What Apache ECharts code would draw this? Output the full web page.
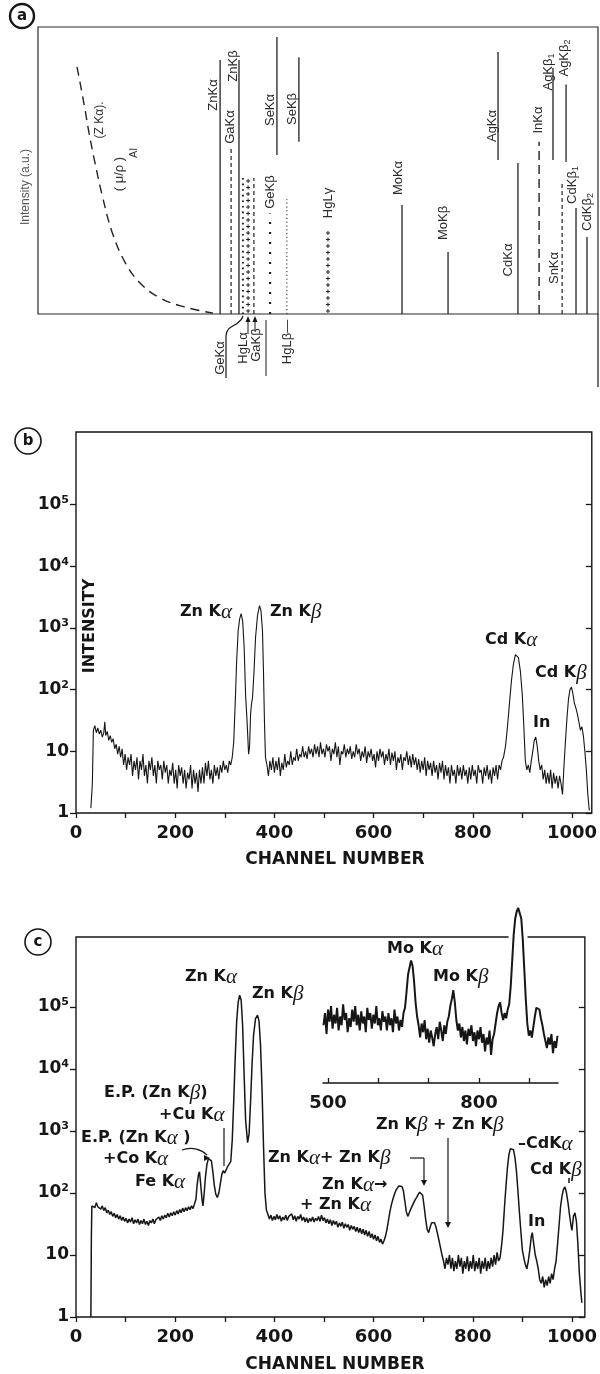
<!DOCTYPE html>
<html>
<head>
<meta charset="utf-8">
<script src="https://cdn.jsdelivr.net/npm/echarts@6/dist/echarts.min.js"></script>
<style>
  html, body { margin: 0; padding: 0; background: #fff; }
  #chart { width: 600px; height: 1374px; }
</style>
</head>
<body>
<div id="chart"></div>
<script>
// ---- panel (a): schematic line positions (keV) and heights (fraction of frame)
const aNames  = ['ZnKα','GaKα','ZnKβ','GeKα','HgLα','GaKβ','GeKβ','SeKα','HgLβ','SeKβ','HgLγ','MoKα','MoKβ','AgKα','CdKα','InKα','AgKβ1','SnKα','AgKβ2','CdKβ1','CdKβ2'];
const aEnergy = [8.78, 9.31, 9.69, 9.88, 10.13, 10.41, 11.19, 11.52, 12.0, 12.58, 13.98, 17.55, 19.77, 22.18, 23.14, 24.16, 24.83, 25.27, 25.46, 25.94, 26.47];
const aLow    = [0, 0, 0, 0, 0, 0, 0, 0.554, 0, 0.60, 0, 0, 0, 0.537, 0, 0, 0.537, 0, 0.53, 0, 0];
const aHigh   = [0.885, 0.58, 0.885, 0.474, 0.474, 0.474, 0.35, 0.965, 0.40, 0.895, 0.293, 0.38, 0.216, 0.913, 0.526, 0.60, 0.857, 0.456, 0.80, 0.369, 0.268];
const aStroke = ['solid','dash','solid','dot','plus','dash','bigdot','solid','fine','solid','plus','solid','solid','solid','solid','longdash','solid','dash','solid','solid','solid'];
const strokeKinds = ['solid','dash','longdash','dot','bigdot','fine','plus'];

// absorption curve (mu/rho)_Al
const muEnergy = [1.88, 2.03, 2.27, 2.46, 2.75, 3.09, 3.57, 4.19, 4.92, 5.88, 7.09, 8.44];
const muValue  = [0.861, 0.805, 0.711, 0.631, 0.526, 0.415, 0.286, 0.181, 0.108, 0.056, 0.024, 0.003];

// ---- panel (b): spectrum [channel, counts]
const specB = [[30,1.2],[33,3],[35,22],[38,26],[41,20],[44,24],[47,19],[50,22],[53,17],[56,20],[58,30],[60,18],[63,21],[66,15],[69,18],[72,14],[75,16],[78,11],[81,13],[84,9],[87,12],[90,8],[93,11],[96,6],[99,9],[102,5],[105,8],[108,6],[111,9],[114,4],[117,7],[120,5],[123,8],[126,3.5],[129,7],[132,5],[135,9],[138,4],[141,6],[144,3],[147,7],[150,5],[153,8],[156,4],[159,6],[162,3],[165,7],[168,5],[171,6],[174,3.5],[177,7],[180,4.5],[183,6],[186,3],[189,5],[192,4],[195,6.5],[198,3],[201,5],[204,2.5],[207,6],[210,4],[213,5.5],[216,3],[219,5],[222,2.5],[225,4.5],[228,3.5],[231,6],[234,2.5],[237,5],[240,3],[243,4.5],[246,2.2],[249,5],[252,3],[255,5.5],[258,3],[261,6.5],[264,4],[267,7],[270,3.5],[273,5],[276,3],[279,6],[282,4],[285,5.5],[288,3.5],[291,6],[294,4.5],[297,7],[300,5],[303,6],[306,4.5],[309,7],[312,6],[315,8],
  [318,14],[321,60],[324,300],[327,900],[330,1400],[333,1700],[336,1300],[339,500],[342,80],[345,30],[348,9],[350,12],[352,40],[354,60],[356,75],[359,200],[362,700],[366,1600],[370,2300],[373,1900],[376,900],[378,200],[380,30],[382,8],
  [385,6],[388,4],[391,7],[394,5],[397,8],[400,4.5],[403,7],[406,5],[409,8],[412,4],[415,6.5],[418,5],[421,9],[424,5.5],[427,7],[430,6],[433,10],[436,6],[439,8],[442,7],[445,11],[448,7],[451,9],[454,8],[457,12],[460,8],[463,10],[466,7.5],[469,12],[472,9],[475,11],[478,8],[481,13],[484,9],[487,12],[490,8],[493,14],[496,9],[499,11],[502,8],[505,13],[508,10],[511,12],[514,7],[517,11],[520,9],[523,14],[526,8],[529,12],[532,6],[535,10],[538,9],[541,13],[544,8],[547,11],[550,9],[553,12],[556,7.5],[559,10],[562,8],[565,13],[568,9],[571,11],[574,7],[577,10],[580,8],[583,12],[586,6.5],[589,10],[592,8],[595,11],[598,7],[601,9],[604,5.5],[607,10],[610,7],[613,11],[616,8],[619,10],[622,6],[625,9],[628,7],[631,11],[634,6],[637,9.5],[640,7],[643,10],[646,5],[649,8],[652,6.5],[655,9],[658,5],[661,8],[664,7],[667,10],[670,6],[673,8.5],[676,5.5],[679,9],[682,6],[685,8],[688,5],[691,7.5],[694,4.5],[697,7],[700,5],[703,8],[706,4],[709,7],[712,5],[715,6.5],[718,4],[721,7],[724,4.5],[727,6],[730,3.5],[733,6.5],[736,4.5],[739,7],[742,3.5],[745,6],[748,4],[751,5.5],[754,3],[757,6],[760,4],[763,5],[766,3],[769,6],[772,4],[775,5.5],[778,3.5],[781,6],[784,4],[787,5],[790,3],[793,5.5],[796,3.5],[799,6],[802,4],[805,5],[808,3],[811,6],[814,4.5],[817,5],[820,3],[823,5.5],[826,4],[829,6],[832,3.5],[835,5],[838,3],[841,5.5],[844,4],[847,6],[850,3.5],[853,6],[856,5],[859,7],
  [862,8],[866,12],[870,25],[874,60],[878,140],[882,260],[886,370],[889,390],[892,330],[896,200],[900,80],[903,25],[906,7],[909,5],[912,6],[915,4.5],[918,7],[921,10],[924,15],[927,17],[930,12],[933,7],[936,5],[939,6],[942,3.5],[945,5],[948,3],[951,4.5],[954,3],[957,5],[960,2.5],[963,4.5],[966,3],[969,4],[972,2.5],[975,4],[978,3],[981,2],[984,6],[987,15],[990,35],[993,70],[996,100],[999,110],[1002,85],[1005,60],[1008,50],[1011,40],[1014,30],[1017,22],[1020,25],[1023,18],[1026,10],[1029,5],[1032,2],[1035,1.1]];

// ---- panel (c): spectrum [channel, counts]
const specC = [[30,1],[31,20],[32,62],[35,66],[38,58],[41,70],[44,60],[47,64],[50,55],[53,62],[56,52],[59,58],[62,48],[65,53],[68,45],[71,50],[74,42],[77,47],[80,40],[83,45],[86,38],[89,43],[92,36],[95,41],[98,35],[101,39],[104,33],[107,38],[110,34],[113,40],[116,32],[119,37],[122,33],[125,38],[128,31],[131,36],[134,32],[137,38],[140,31],[143,35],[146,30],[149,36],[152,33],[155,38],[158,32],[161,37],[164,35],[167,41],[170,36],[173,43],[176,38],[179,44],[182,40],[185,47],[188,41],[191,48],[194,43],[197,50],[200,44],[203,52],[206,46],[209,54],[212,48],[215,57],[218,50],[221,58],[224,52],[227,60],[230,54],[233,62],[236,56],[239,60],
  [242,80],[244,130],[247,200],[249,220],[251,150],[254,80],[256,62],[258,90],[261,180],[264,290],[267,360],[270,380],[273,330],[276,220],[279,130],[282,95],[285,85],[288,100],[291,140],[294,200],[297,230],[300,210],[303,240],[306,270],[309,280],[312,320],[315,700],[318,3000],[321,15000],[324,60000],[327,120000],[330,155000],[333,130000],[336,50000],[339,8000],[342,1500],[346,650],[349,900],[352,3000],[355,12000],[358,35000],[362,65000],[366,74000],[369,60000],[372,25000],[375,5000],[378,600],[381,100],[384,53],
  [387,45],[390,38],[393,44],[396,36],[399,42],[402,37],[405,45],[408,38],[411,43],[414,35],[417,41],[420,37],[423,44],[426,36],[429,42],[432,39],[435,46],[438,37],[441,43],[444,35],[447,42],[450,38],[453,45],[456,36],[459,41],[462,34],[465,40],[468,33],[471,39],[474,35],[477,41],[480,34],[483,39],[486,36],[489,42],[492,35],[495,44],[498,36],[501,40],[504,33],[507,38],[510,32],[513,37],[516,30],[519,36],[522,31],[525,35],[528,28],[531,33],[534,29],[537,34],[540,27],[543,32],[546,28],[549,31],[552,25],[555,30],[558,26],[561,29],[564,24],[567,28],[570,23],[573,27],[576,22],[579,26],[582,21],[585,25],[588,20],[591,24],[594,19],[597,22],[600,18],[603,21],[606,17],[609,20],[612,16],[615,18],[618,15],[621,17],
  [624,20],[627,26],[630,36],[633,50],[636,65],[639,80],[642,95],[645,110],[648,120],[651,130],[654,135],[657,128],[660,110],[663,75],[666,50],[669,42],[672,48],[675,55],[678,62],[681,70],[684,78],[687,85],[690,95],[693,103],[696,105],[699,92],[702,60],[705,38],[708,26],[711,23],[714,28],[717,33],[720,35],[723,33],[726,28],[729,22],[732,17],[735,13],[738,10],[741,8],
  [744,6],[747,9],[750,7],[753,10],[756,6],[759,9],[762,5.5],[765,8],[768,6],[771,10],[774,6.5],[777,9],[780,5],[783,8],[786,6],[789,9.5],[792,5.5],[795,8],[798,6],[801,10],[804,5.5],[807,8],[810,6],[813,9],[816,5],[819,8],[822,6],[825,9],[828,5.5],[831,8],[834,6],[837,9],[840,6.5],[843,10],[846,7],[849,11],[852,8],[855,9],
  [858,14],[861,25],[864,60],[867,130],[870,260],[873,420],[876,520],[879,550],[882,500],[885,380],[888,230],[891,110],[894,50],[897,24],[900,12],[903,9],[906,7],[909,6],[912,8],[915,12],[918,20],[920,23],[923,15],[926,10],[929,8],[932,6],[935,4],[938,3.5],[941,4.5],[944,3],[947,4],[950,3.2],[953,4.5],[956,3.5],[959,5],[962,4],[965,6],
  [968,8],[971,15],[974,30],[977,60],[980,90],[983,115],[986,125],[989,100],[992,70],[995,45],[998,30],[1000,25],[1003,42],[1006,48],[1009,35],[1012,15],[1015,5],[1018,2.5],[1020,1.7]];

// ---- inset of (c): linear counts (arb.)
const specInset = [[491,33],[494,40],[497,28],[500,42],[503,35],[506,44],[509,31],[512,39],[515,34],[518,43],[521,30],[524,38],[527,33],[530,45],[533,36],[536,40],[539,29],[542,37],[545,32],[548,42],[551,35],[554,44],[557,33],[560,39],[563,30],[566,41],[569,34],[572,38],[575,29],[578,43],[581,36],[584,40],[587,31],[590,39],[593,34],[596,44],[599,33],[602,37],[605,30],[608,41],[611,35],[614,38],[617,30],[620,40],[623,33],[626,37],[629,29],[632,42],[635,34],[638,38],[641,30],[644,36],[647,32],[650,40],[653,43],[656,52],[659,62],[662,66],[665,70],[668,67],[671,58],[674,46],[677,38],[680,33],[683,26],[686,34],[689,29],[692,36],[695,25],[698,31],[701,23],[704,30],[707,26],[710,21],[713,28],[716,32],[719,25],[722,35],[725,30],[728,24],[731,33],[734,28],[737,35],[740,38],[743,44],[746,48],[749,53],[752,46],[755,36],[758,30],[761,34],[764,26],[767,32],[770,24],[773,30],[776,22],[779,31],[782,27],[785,33],[788,24],[791,29],[794,21],[797,30],[800,25],[803,32],[806,23],[809,28],[812,18],[815,26],[818,22],[821,30],[824,16],[827,25],[830,28],[833,34],[836,40],[839,44],[842,46],[845,40],[848,36],[851,40],[854,37],[857,42],[860,45],[863,55],[866,70],[869,85],[872,94],[875,98],[878,100],[881,99],[884,94],[887,82],[890,65],[893,48],[896,34],[899,27],[902,30],[905,26],[908,32],[911,38],[914,43],[917,44],[920,42],[923,37],[926,33],[929,28],[932,24],[935,20],[938,26],[941,22],[944,28],[947,17],[950,24],[953,20],[956,27]];

// tick values
const chanTicks = [0,100,200,300,400,500,600,700,800,900,1000];
const chanLabels = [0,200,400,600,800,1000];
const decadeTicks = [1,10,100,1000,10000,100000];
const insetTicks = [500,600,700,800,900];
const insetLabels = [500,800];

const INK = '#161616';
const BOLD = '"DejaVu Sans", sans-serif';
const SERIF = '"Liberation Serif", "DejaVu Serif", serif';
const THIN = '"Liberation Sans", "DejaVu Sans", sans-serif';

const chart = echarts.init(document.getElementById('chart'));

const boldNum = { fontFamily: BOLD, fontWeight: 'bold', fontSize: 18, color: INK, formatter: v => String(v) };

function chanAxis(grid, max) {
  return {
    gridIndex: grid, type: 'value', min: 0, max: max,
    axisLine: { show: false },
    splitLine: { show: false },
    axisTick: { customValues: chanTicks, length: 5, lineStyle: { color: INK, width: 1.3 } },
    axisLabel: { customValues: chanLabels, margin: 11, ...boldNum }
  };
}
function logAxis(grid, max, right) {
  return {
    gridIndex: grid, type: 'log', logBase: 10, min: 1, max: max,
    position: right ? 'right' : 'left',
    axisLine: { show: false },
    splitLine: { show: false },
    axisTick: { customValues: decadeTicks, inside: !!right, length: 6, lineStyle: { color: INK, width: 1.3 } },
    axisLabel: {
      show: !right, customValues: decadeTicks, margin: 7,
      formatter: v => v < 2 ? '{n|1}' : v < 20 ? '{n|10}' : '{n|10}{s|' + Math.round(Math.log10(v)) + '}',
      rich: {
        n: { fontFamily: BOLD, fontWeight: 'bold', fontSize: 17, color: INK },
        s: { fontFamily: BOLD, fontWeight: 'bold', fontSize: 11, color: INK, padding: [0, 0, 9, 0] }
      }
    }
  };
}

// rich text helpers for bold labels with thin italic greek letters
const annRich = {
  b: { fontFamily: BOLD, fontWeight: 'bold', fontSize: 16, fill: INK },
  g: { fontFamily: SERIF, fontStyle: 'italic', fontWeight: 'normal', fontSize: 21, fill: INK }
};
function ann(text, x, y, align, rot, size) {
  const rich = size ? { b: Object.assign({}, annRich.b, { fontSize: size }), g: annRich.g } : annRich;
  return {
    type: 'text', x: x, y: y, rotation: rot || 0, z: 50,
    style: { text: text, rich: rich, align: align || 'left', verticalAlign: 'middle' }
  };
}
const thinRich = {
  t: { fontFamily: THIN, fontSize: 13, fill: '#2a2a2a' },
  s: { fontFamily: THIN, fontSize: 9, fill: '#2a2a2a', padding: [8, 0, 0, 0] }
};
function thin(text, x, y) {
  return {
    type: 'text', x: x, y: y, rotation: Math.PI / 2, z: 50,
    style: { text: text, rich: thinRich, align: 'center', verticalAlign: 'middle' }
  };
}
function seg(x1, y1, x2, y2, w) {
  return { type: 'line', z: 50, shape: { x1, y1, x2, y2 }, style: { stroke: INK, lineWidth: w || 1.2 } };
}
function curve(x1, y1, cx1, cy1, cx2, cy2, x2, y2) {
  return { type: 'bezierCurve', z: 50, shape: { x1, y1, cpx1: cx1, cpy1: cy1, cpx2: cx2, cpy2: cy2, x2, y2 },
    style: { stroke: INK, lineWidth: 1.2, fill: null } };
}
function head(x, y, dir) {
  // small filled arrow head; dir: 'down' | 'up' | 'right'
  const pts = dir === 'down' ? [[x - 3, y - 6], [x + 3, y - 6], [x, y]]
    : dir === 'up' ? [[x - 2.5, y + 6], [x + 2.5, y + 6], [x, y]]
    : [[x - 6, y - 3], [x - 6, y + 3], [x, y]];
  return { type: 'polygon', z: 50, shape: { points: pts }, style: { fill: INK } };
}
function badge(cx, cy, r, letter, w) {
  return [
    { type: 'circle', z: 50, shape: { cx, cy, r }, style: { fill: '#fff', stroke: INK, lineWidth: w } },
    { type: 'text', x: cx, y: cy, z: 51, style: { text: letter, align: 'center', verticalAlign: 'middle',
      fontFamily: 'DejaVu Sans', fontWeight: 'bold', fontSize: 15, fill: INK } }
  ];
}

// panel (a) stick data
const sticks = aEnergy.map((e, i) => [e, aLow[i], aHigh[i], strokeKinds.indexOf(aStroke[i])]);

function renderStick(params, api) {
  const e = api.value(0);
  const p0 = api.coord([e, api.value(1)]);
  const p1 = api.coord([e, api.value(2)]);
  const kind = strokeKinds[api.value(3)];
  const shape = { x1: p0[0], y1: p0[1], x2: p1[0], y2: p1[1] };
  if (kind === 'plus') {
    const kids = [];
    for (let y = p0[1] - 3; y >= p1[1]; y -= 6.5) {
      kids.push({ type: 'line', shape: { x1: p0[0] - 2, y1: y, x2: p0[0] + 2, y2: y }, style: { stroke: '#222', lineWidth: 1 } });
      kids.push({ type: 'line', shape: { x1: p0[0], y1: y - 2, x2: p0[0], y2: y + 2 }, style: { stroke: '#222', lineWidth: 1 } });
    }
    return { type: 'group', children: kids };
  }
  const st = { stroke: '#222', lineWidth: 1.3 };
  if (kind === 'dash') { st.lineDash = [4, 3]; st.lineWidth = 1.2; }
  if (kind === 'longdash') { st.lineDash = [9, 5]; st.lineWidth = 1.4; }
  if (kind === 'dot') { st.lineDash = [1.6, 4]; st.lineWidth = 2; }
  if (kind === 'bigdot') { st.lineDash = [2, 8]; st.lineWidth = 2.2; }
  if (kind === 'fine') { st.lineDash = [1.2, 2.6]; st.lineWidth = 1; }
  return { type: 'line', shape: shape, style: st };
}

const graphics = [
  ...badge(22, 16, 12, 'a', 2.4),
  ...badge(28, 441, 13, 'b', 1.6),
  ...badge(38, 942, 13, 'c', 1.6),
  // panel (a) decorations
  seg(598, 314, 598, 387, 1.2),
  { type: 'text', x: 26, y: 187, rotation: Math.PI / 2, z: 50,
    style: { text: 'Intensity (a.u.)', fontFamily: THIN, fontSize: 12, fill: '#555', align: 'center', verticalAlign: 'middle' } },
  { type: 'text', x: 100, y: 120, rotation: Math.PI / 2, z: 50,
    style: { text: '(Z Kα).', fontFamily: THIN, fontSize: 12, fill: '#333', align: 'center', verticalAlign: 'middle' } },
  { type: 'text', x: 119, y: 174, rotation: Math.PI / 2, z: 50,
    style: { text: '( μ/ρ )', fontFamily: THIN, fontSize: 13, fill: '#333', align: 'center', verticalAlign: 'middle' } },
  { type: 'text', x: 134, y: 153, rotation: Math.PI / 2, z: 50,
    style: { text: 'Al', fontFamily: THIN, fontSize: 11, fill: '#333', align: 'center', verticalAlign: 'middle' } },
  thin('{t|ZnKα}', 213, 95), thin('{t|GaKα}', 230, 127), thin('{t|ZnKβ}', 233, 66),
  thin('{t|SeKα}', 270, 110), thin('{t|SeKβ}', 292, 109), thin('{t|GeKβ}', 270, 192),
  thin('{t|HgLγ}', 328, 203), thin('{t|MoKα}', 398, 178), thin('{t|MoKβ}', 443, 223),
  thin('{t|AgKα}', 492, 126), thin('{t|CdKα}', 508, 260), thin('{t|InKα}', 538, 120),
  thin('{t|AgKβ}{s|1}', 548, 72), thin('{t|AgKβ}{s|2}', 564, 58), thin('{t|SnKα}', 554, 268),
  thin('{t|CdKβ}{s|1}', 572, 185), thin('{t|CdKβ}{s|2}', 587, 212),
  thin('{t|GeKα}', 220, 358), thin('{t|HgLα}', 243, 348), thin('{t|GaKβ}', 256, 345), thin('{t|HgLβ—}', 287, 342),
  seg(226, 378, 226, 336, 1.2), curve(226, 336, 226, 324, 240, 327, 243, 316),
  seg(248, 334, 248, 320, 1), head(248, 316, 'up'),
  seg(255, 318, 255, 330, 1), head(255, 316, 'up'),
  seg(266, 320, 266, 376, 1),
  // panel (b) labels
  ann('{b|Zn K}{g|α}', 180, 612), ann('{b|Zn K}{g|β}', 270, 612),
  ann('{b|Cd K}{g|α}', 485, 640), ann('{b|Cd K}{g|β}', 535, 673), ann('{b|In}', 533, 723),
  ann('{b|INTENSITY}', 90, 626, 'center', Math.PI / 2),
  ann('{b|CHANNEL NUMBER}', 335, 860, 'center', 0, 17),
  // panel (c) labels
  ann('{b|Zn K}{g|α}', 185, 977), ann('{b|Zn K}{g|β}', 252, 994),
  ann('{b|Mo K}{g|α}', 387, 949), ann('{b|Mo K}{g|β}', 433, 977),
  ann('{b|E.P. (Zn K}{g|β}{b|)}', 104, 1093), ann('{b|+Cu K}{g|α}', 159, 1115),
  ann('{b|E.P. (Zn K}{g|α}{b| )}', 81, 1138), ann('{b|+Co K}{g|α}', 103, 1159),
  ann('{b|Fe K}{g|α}', 135, 1182),
  seg(224, 1128, 224, 1166, 1.2),
  curve(182, 1150, 192, 1146, 202, 1150, 207, 1155), head(210, 1158, 'right'),
  ann('{b|Zn K}{g|α}{b|+ Zn K}{g|β}', 268, 1158),
  seg(410, 1158, 424, 1158, 1.2), seg(424, 1158, 424, 1180, 1.2), head(424, 1186, 'down'),
  ann('{b|Zn K}{g|α}{b|→}', 322, 1185), ann('{b|+ Zn K}{g|α}', 300, 1205),
  ann('{b|Zn K}{g|β}{b| + Zn K}{g|β}', 376, 1125),
  seg(448, 1138, 448, 1222, 1.2), head(448, 1228, 'down'),
  ann('{b|–CdK}{g|α}', 518, 1144), ann('{b|Cd K}{g|β}', 530, 1170), ann('{b|In}', 528, 1222),
  seg(569, 1178, 569, 1183, 1.5),
  ann('{b|CHANNEL NUMBER}', 335, 1365, 'center', 0, 17)
];

const option = {
  animation: false,
  backgroundColor: '#fff',
  grid: [
    { left: 38, top: 27, width: 560, height: 287, show: true, borderColor: '#2a2a2a', borderWidth: 1.2 },
    { left: 76, top: 432, width: 521, height: 381, show: true, borderColor: INK, borderWidth: 1.4 },
    { left: 76, top: 937, width: 514, height: 380, show: true, borderColor: INK, borderWidth: 1.4 },
    { left: 323, top: 908, width: 235, height: 175, show: false }
  ],
  xAxis: [
    { gridIndex: 0, type: 'value', min: 0, max: 27, show: false },
    chanAxis(1, 1040),
    chanAxis(2, 1026),
    {
      gridIndex: 3, type: 'value', min: 490, max: 957,
      axisLine: { show: true, lineStyle: { color: INK, width: 1.5 } },
      splitLine: { show: false },
      axisTick: { customValues: insetTicks, inside: true, length: 5, lineStyle: { color: INK, width: 1.3 } },
      axisLabel: { customValues: insetLabels, margin: 11, ...boldNum }
    }
  ],
  yAxis: [
    { gridIndex: 0, type: 'value', min: 0, max: 1, show: false },
    logAxis(1, 1.5e6, false),
    logAxis(1, 1.5e6, true),
    logAxis(2, 1.35e6, false),
    logAxis(2, 1.35e6, true),
    { gridIndex: 3, type: 'value', min: 0, max: 100, show: false }
  ],
  series: [
    { type: 'custom', xAxisIndex: 0, yAxisIndex: 0, renderItem: renderStick, data: sticks, silent: true },
    { type: 'line', xAxisIndex: 0, yAxisIndex: 0, smooth: 0.4, showSymbol: false,
      data: muEnergy.map((e, i) => [e, muValue[i]]),
      lineStyle: { color: '#222', width: 1.4, type: [9, 6] } },
    { type: 'line', xAxisIndex: 1, yAxisIndex: 1, showSymbol: false, data: specB,
      lineStyle: { color: INK, width: 1.1 } },
    { type: 'line', xAxisIndex: 2, yAxisIndex: 3, showSymbol: false, data: specC,
      lineStyle: { color: INK, width: 1.5 } },
    { type: 'line', xAxisIndex: 3, yAxisIndex: 5, showSymbol: false, data: specInset, z: 3,
      lineStyle: { color: '#fff', width: 10 } },
    { type: 'line', xAxisIndex: 3, yAxisIndex: 5, showSymbol: false, data: specInset, z: 4,
      lineStyle: { color: INK, width: 2 } }
  ],
  graphic: graphics
};

chart.setOption(option);
</script>
</body>
</html>
